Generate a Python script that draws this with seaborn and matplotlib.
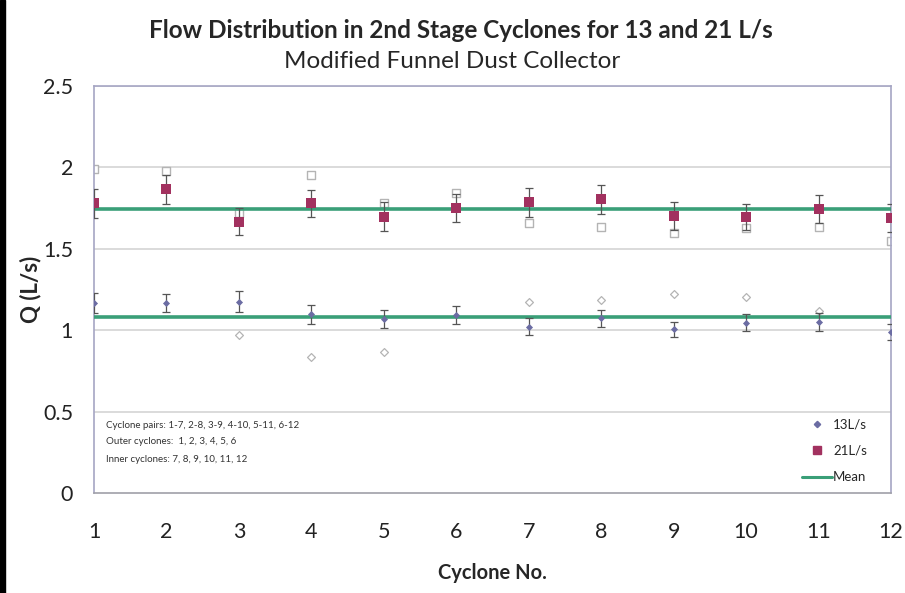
import numpy as np
import pandas as pd
import matplotlib
matplotlib.use("Agg")
import matplotlib.pyplot as plt
import seaborn as sns
from matplotlib.lines import Line2D

# ---- data ----
cyclones = [1, 2, 3, 4, 5, 6, 7, 8, 9, 10, 11, 12]
q13 = [1.169, 1.167, 1.175, 1.098, 1.067, 1.093, 1.022, 1.073, 1.005, 1.046, 1.050, 0.989]
err13 = [0.062, 0.058, 0.063, 0.057, 0.055, 0.055, 0.050, 0.053, 0.048, 0.052, 0.056, 0.050]
q21 = [1.779, 1.865, 1.667, 1.779, 1.697, 1.752, 1.786, 1.804, 1.700, 1.693, 1.743, 1.691]
err21 = [0.090, 0.090, 0.085, 0.085, 0.090, 0.085, 0.090, 0.090, 0.085, 0.080, 0.087, 0.087]
pair13 = [np.nan, np.nan, 0.970, 0.837, 0.864, np.nan, 1.171, 1.185, 1.220, 1.204, 1.118, np.nan]
pair21 = [1.990, 1.980, 1.718, 1.952, 1.783, 1.841, 1.657, 1.636, 1.599, 1.626, 1.636, 1.550]
mean13 = 1.079
mean21 = 1.745
yticks = [0, 0.5, 1, 1.5, 2, 2.5]
ytick_labels = ["0", "0.5", "1", "1.5", "2", "2.5"]
title = "Flow Distribution in 2nd Stage Cyclones for 13 and 21 L/s"
subtitle = "Modified Funnel Dust Collector"
notes = ["Cyclone pairs: 1-7, 2-8, 3-9, 4-10, 5-11, 6-12",
         "Outer cyclones:  1, 2, 3, 4, 5, 6",
         "Inner cyclones: 7, 8, 9, 10, 11, 12"]

df = pd.DataFrame({"Cyclone": cyclones, "q13": q13, "q21": q21,
                   "pair13": pair13, "pair21": pair21})
mean_df = pd.DataFrame({"Cyclone": [cyclones[0], cyclones[-1]] * 2,
                        "Q": [mean13, mean13, mean21, mean21],
                        "grp": ["13", "13", "21", "21"]})

sns.set_theme(style="white")
plt.rcParams['font.family'] = ['Lato', 'DejaVu Sans']

fig = plt.figure(figsize=(9.05, 5.93), dpi=100)
ax = fig.add_axes([94/905, 1-493/593, (891-94)/905, (493-86)/593])

grid_c = "#d4d4d4"
for y in yticks[1:]:
    ax.axhline(y, color=grid_c, lw=1.2, zorder=0)

c13 = "#6b6ca3"
c21 = "#a2315f"
cgreen = "#3a9f78"
cpair = "#b4b4b4"

# open (pair) markers
sns.scatterplot(data=df, x="Cyclone", y="pair21", ax=ax, marker="s", s=40,
                facecolor="white", edgecolor=cpair, linewidth=1.0, zorder=2, legend=False)
sns.scatterplot(data=df, x="Cyclone", y="pair13", ax=ax, marker="D", s=16,
                facecolor="white", edgecolor=cpair, linewidth=0.9, zorder=2, legend=False)

# mean lines
sns.lineplot(data=mean_df, x="Cyclone", y="Q", units="grp", estimator=None,
             ax=ax, color=cgreen, lw=2.6, zorder=3, legend=False)

# error bars
ax.errorbar(cyclones, q21, yerr=err21, fmt="none", ecolor="#555555", elinewidth=0.9,
            capsize=3, capthick=0.9, zorder=4)
ax.errorbar(cyclones, q13, yerr=err13, fmt="none", ecolor="#555555", elinewidth=0.9,
            capsize=3, capthick=0.9, zorder=4)

# filled markers
sns.scatterplot(data=df, x="Cyclone", y="q21", ax=ax, marker="s", s=48,
                color=c21, edgecolor=c21, linewidth=0, zorder=5, legend=False)
sns.scatterplot(data=df, x="Cyclone", y="q13", ax=ax, marker="D", s=13,
                color=c13, edgecolor=c13, linewidth=0, zorder=5, legend=False)

ax.set_xlim(1, 12)
ax.set_ylim(0, 2.5)
ax.set_xticks(cyclones)
ax.set_xticklabels([str(c) for c in cyclones], fontsize=15.5, color="#222222")
ax.set_yticks(yticks)
ax.set_yticklabels(ytick_labels, fontsize=15.5, color="#222222")
ax.tick_params(axis="x", direction="out", length=5, color="#9a9ab0", pad=16)
ax.tick_params(axis="y", direction="out", length=5, color="#9a9ab0", pad=10)
ax.set_xlabel("Cyclone No.", fontsize=14.5, fontweight="bold", labelpad=15)
ax.set_ylabel("Q (L/s)", fontsize=16, fontweight="bold", labelpad=1)
for s in ax.spines.values():
    s.set_color("#a6a6c4")
    s.set_linewidth(1.2)
ax.spines["bottom"].set_color("#a0a0a8")

# notes
for i, t in enumerate(notes):
    fig.text(106/905, 1-(425+17*i)/593, t, fontsize=7.0, color="#333333", va="center")

# legend
handles = [Line2D([], [], marker="D", ls="none", color=c13, markersize=3.2),
           Line2D([], [], marker="s", ls="none", color=c21, markersize=5.5),
           Line2D([], [], color=cgreen, lw=2.2)]
leg = ax.legend(handles, ["13L/s", "21L/s", "Mean"], loc="lower right",
                bbox_to_anchor=(0.985, -0.005), frameon=False, fontsize=9.5,
                handlelength=2.3, labelspacing=1.1, markerfirst=True, handletextpad=0.1)

fig.text(461/905, 1-30/593, title, fontsize=17.5, fontweight="bold", ha="center", va="center")
fig.text(452/905, 1-61/593, subtitle, fontsize=17.5, ha="center", va="center")

# black left edge strip
fig.patches.append(plt.Rectangle((0, 0), 5/905, 1, transform=fig.transFigure,
                                 color="black", zorder=10))

fig.savefig("out.png", dpi=100, facecolor="white")
